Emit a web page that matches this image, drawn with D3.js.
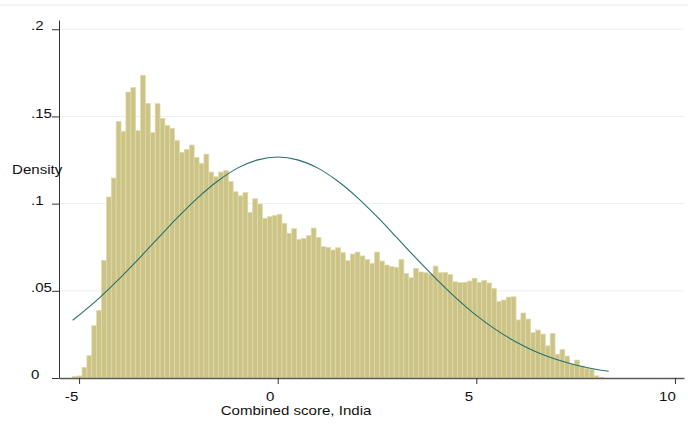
<!DOCTYPE html>
<html>
<head>
<meta charset="utf-8">
<script src="https://cdn.jsdelivr.net/npm/d3@7"></script>
<style>
    body { margin: 0; background: white; }
    text { font-family: "Liberation Sans", Arial, sans-serif; }
</style>
</head>
<body>
<main></main>
<script>
// histogram of combined score, 109 bins starting at binStart
const binStart = -5.171
const binWidth = 0.12275
const densities = [
    0.0008, 0.0012, 0.0061, 0.0128, 0.0300, 0.0388, 0.0675, 0.1038, 0.1147, 0.1472,
    0.1414, 0.1640, 0.1665, 0.1418, 0.1736, 0.1575, 0.1407, 0.1573, 0.1489, 0.1449,
    0.1432, 0.1361, 0.1294, 0.1311, 0.1336, 0.1265, 0.1231, 0.1284, 0.1181, 0.1154,
    0.1181, 0.1189, 0.1126, 0.1068, 0.1045, 0.1063, 0.0950, 0.1028, 0.0998, 0.0916,
    0.0925, 0.0931, 0.0939, 0.0887, 0.0830, 0.0856, 0.0795, 0.0801, 0.0816, 0.0860,
    0.0807, 0.0753, 0.0749, 0.0734, 0.0747, 0.0719, 0.0673, 0.0711, 0.0722, 0.0700,
    0.0680, 0.0657, 0.0722, 0.0671, 0.0648, 0.0638, 0.0635, 0.0680, 0.0600, 0.0575,
    0.0629, 0.0608, 0.0604, 0.0596, 0.0642, 0.0604, 0.0606, 0.0594, 0.0552, 0.0547,
    0.0549, 0.0556, 0.0572, 0.0549, 0.0560, 0.0545, 0.0514, 0.0438, 0.0447, 0.0464,
    0.0466, 0.0333, 0.0373, 0.0338, 0.0260, 0.0275, 0.0252, 0.0185, 0.0256, 0.0136,
    0.0164, 0.0126, 0.0080, 0.0103, 0.0069, 0.0056, 0.0050, 0.0013, 0.0004
]

// normal density overlay
const curveX = [-5.16, -4.5, -4, -3.5, -3, -2.5, -2, -1.5, -1, -0.5, 0, 0.5, 1, 1.5, 2, 2.5,
    3, 3.5, 4, 4.5, 5, 5.5, 6, 6.5, 7, 7.5, 8, 8.33]
const curveY = [0.0331, 0.0457, 0.0566, 0.0683, 0.0805, 0.0925, 0.1036, 0.1131, 0.1205, 0.1251,
    0.1267, 0.1251, 0.1205, 0.1131, 0.1036, 0.0925, 0.0805, 0.0683, 0.0566, 0.0457,
    0.0359, 0.0276, 0.0207, 0.0151, 0.0107, 0.00745, 0.00503, 0.00384]

const xTicks = [-5, 0, 5, 10]
const yTicks = [0, 0.05, 0.1, 0.15, 0.2]
const yTickLabels = ["0", ".05", ".1", ".15", ".2"]

const svgWidth = 688
const svgHeight = 430
const stretch = 1.16   // the picture is a bit wider than tall text would be

let svg = d3.select("main")
    .append("svg")
    .attr("width", svgWidth)
    .attr("height", svgHeight)
    .style("background-color", "white")

//scales
let xScale = d3.scaleLinear()
    .domain([-5.505, 10.227])
    .range([59, 684])

let yScale = d3.scaleLinear()
    .domain([0, 0.2053])
    .range([378, 20])

//faint line at top of graph region
svg.append("line")
    .attr("x1", 0).attr("x2", svgWidth)
    .attr("y1", 5).attr("y2", 5)
    .style("stroke", "#e4ecee")

//grid lines
svg.append("g")
    .selectAll("line")
    .data(yTicks.slice(1))
    .enter()
    .append("line")
    .attr("x1", 59)
    .attr("x2", 684)
    .attr("y1", d => yScale(d))
    .attr("y2", d => yScale(d))
    .style("stroke", "#eaf1f2")

//bars
svg.append("g")
    .selectAll("rect")
    .data(densities)
    .enter()
    .append("rect")
    .attr("x", (d, i) => xScale(binStart + i * binWidth))
    .attr("y", d => yScale(d))
    .attr("width", xScale(binWidth) - xScale(0))
    .attr("height", d => yScale(0) - yScale(d))
    .attr("fill", "#ccc487")
    .attr("stroke", "#e0dbac")
    .attr("stroke-width", 0.7)

//normal curve
let line = d3.line()
    .x((d, i) => xScale(curveX[i]))
    .y(d => yScale(d))
    .curve(d3.curveCatmullRom)

svg.append("path")
    .datum(curveY)
    .attr("d", line)
    .attr("fill", "none")
    .attr("stroke", "#26716c")
    .attr("stroke-width", 1.1)

//y axis
let leftAxis = d3.axisLeft(yScale)
    .tickValues(yTicks)
    .tickSize(7)
    .tickSizeOuter(0)
    .tickFormat((d, i) => yTickLabels[i])

let yAxis = svg.append("g")
    .attr("transform", "translate(59, 0)")
    .call(leftAxis)

yAxis.select("path").style("stroke", "#333")
yAxis.selectAll("line").style("stroke", "#333")
yAxis.selectAll("text")
    .attr("text-anchor", "start")
    .attr("x", -28 / stretch)
    .attr("dy", "0.05em")
    .attr("transform", `scale(${stretch}, 1)`)
    .style("font-size", "13px")
    .style("fill", "#111")

//x axis
let bottomAxis = d3.axisBottom(xScale)
    .tickValues(xTicks)
    .tickSize(6)
    .tickSizeOuter(0)
    .tickFormat(d => d < 0 ? "-" + Math.abs(d) : d)

let xAxis = svg.append("g")
    .attr("transform", "translate(0, 378)")
    .call(bottomAxis)

xAxis.select("path").style("stroke", "#5a5a5a").style("stroke-width", 1.6)
xAxis.selectAll("line").style("stroke", "#333")
xAxis.selectAll("text")
    .attr("x", -8 / stretch)
    .attr("y", 14)
    .attr("transform", `scale(${stretch}, 1)`)
    .style("font-size", "13px")
    .style("fill", "#111")

//axis titles
svg.append("text")
    .attr("transform", `translate(12, 174) scale(${stretch}, 1)`)
    .style("font-size", "13px")
    .attr("fill", "#111")
    .text("Density")

svg.append("text")
    .attr("transform", `translate(296, 415) scale(${stretch}, 1)`)
    .attr("text-anchor", "middle")
    .style("font-size", "13px")
    .attr("fill", "#111")
    .text("Combined score, India")
</script>
</body>
</html>
